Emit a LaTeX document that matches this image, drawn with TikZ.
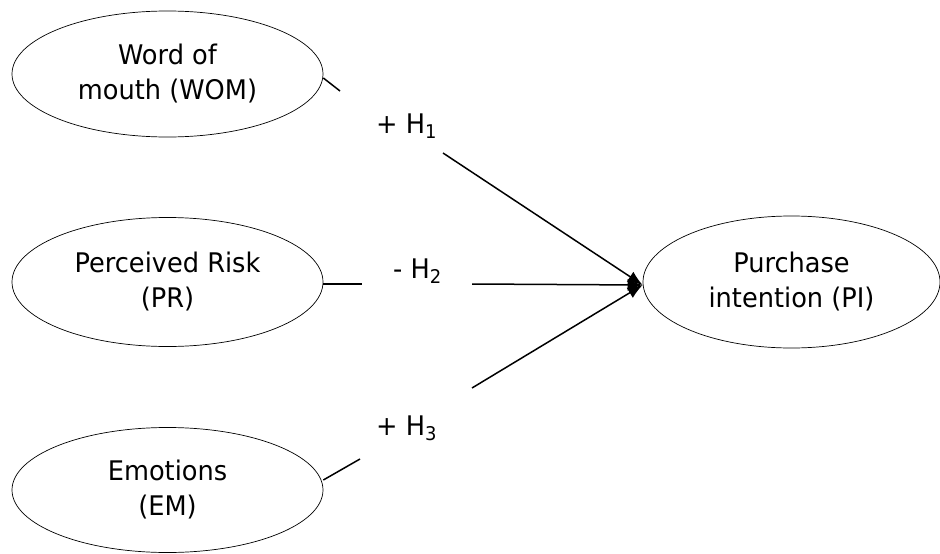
\documentclass[tikz,border=0pt]{standalone}
\usepackage{fontspec}
\setmainfont[FakeStretch=0.95]{DejaVu Sans}
\usetikzlibrary{shapes.geometric,arrows.meta}
\tikzset{
  construct/.style={draw, ellipse, line width=0.7pt, inner sep=0pt, align=center,
    font=\fontsize{27}{35}\selectfont},
  hyp/.style={font=\fontsize{27}{30}\selectfont, inner sep=0pt, anchor=base west},
  path/.style={line width=1.5pt},
  patharrow/.style={line width=1.5pt, -{Latex[length=15pt,width=12pt]}}
}
\begin{document}
\begin{tikzpicture}[x=1pt,y=-1pt]
\useasboundingbox (0,0) rectangle (940,554);
\node[construct, minimum width=311pt, minimum height=126pt] (wom) at (167.5,74) {Word of\\mouth (WOM)};
\node[construct, minimum width=311pt, minimum height=129pt] (pr) at (167.5,282) {Perceived Risk\\(PR)};
\node[construct, minimum width=311pt, minimum height=125pt] (em) at (167.5,490) {Emotions\\(EM)};
\node[construct, minimum width=297pt, minimum height=132pt] (pi) at (791.5,282) {Purchase\\intention (PI)};
\coordinate (w1) at (340,91);
\coordinate (w2) at (443,153);
\coordinate (p1) at (362,284);
\coordinate (p2) at (472,284);
\coordinate (e1) at (360,459);
\coordinate (e2) at (472,388);
\node[hyp] (h1) at (376,133) {+ H\textsubscript{1}};
\node[hyp] (h2) at (393,278) {- H\textsubscript{2}};
\node[hyp] (h3) at (376,435) {+ H\textsubscript{3}};
\draw[path] ([yshift=-4pt]wom.east) -- (w1);
\draw[patharrow] (w2) -- ([yshift=-3pt]pi.west);
\draw[path] ([yshift=-2pt]pr.east) -- (p1);
\draw[patharrow] (p2) -- ([yshift=-3pt]pi.west);
\draw[path] ([yshift=10pt]em.east) -- (e1);
\draw[patharrow] (e2) -- ([yshift=-3pt]pi.west);
\end{tikzpicture}
\end{document}
